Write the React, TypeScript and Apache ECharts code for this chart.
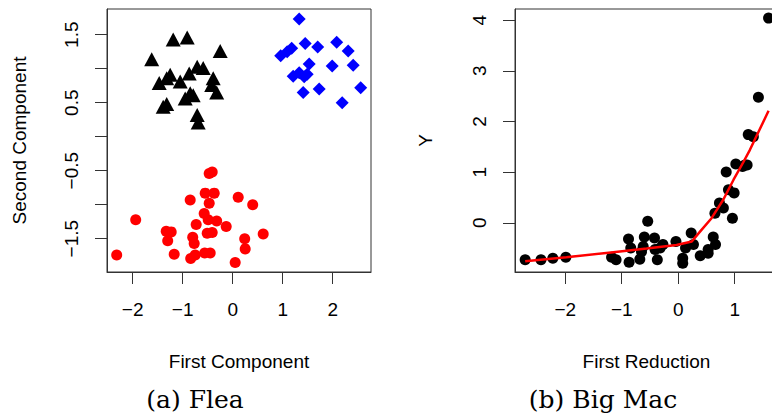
import React, { useEffect, useRef } from "react";
import * as echarts from "echarts";

// ---- Panel (a) Flea ----
const fleaTriangles: [number, number][] = [
  [-1.19, 1.43], [-0.91, 1.46], [-1.62, 1.14], [-0.25, 1.26], [-1.25, 0.91],
  [-1.47, 0.79], [-1.05, 0.81], [-0.87, 0.93], [-0.71, 1.03], [-0.59, 1.01],
  [-0.39, 0.86], [-0.42, 0.76], [-0.32, 0.65], [-0.85, 0.64], [-0.95, 0.56],
  [-1.32, 0.48], [-1.39, 0.44], [-0.71, 0.32], [-0.69, 0.21], [-1.32, 0.86],
  [-0.79, 0.61],
];
const fleaDiamonds: [number, number][] = [
  [1.33, 1.73], [1.18, 1.30], [1.09, 1.25], [0.96, 1.19], [1.45, 1.37],
  [1.70, 1.32], [2.08, 1.39], [2.31, 1.26], [1.53, 1.07], [1.99, 1.04],
  [2.41, 1.05], [1.21, 0.89], [1.33, 0.94], [1.43, 0.88], [1.49, 0.92],
  [1.41, 0.65], [1.73, 0.70], [2.56, 0.72], [2.19, 0.50],
];
const fleaCircles: [number, number][] = [
  [-2.32, -1.74], [-1.94, -1.22], [-1.33, -1.39], [-1.23, -1.40], [-1.30, -1.53],
  [-1.17, -1.73], [-0.85, -0.93], [-0.80, -1.48], [-0.77, -1.57], [-0.73, -1.29],
  [-0.84, -1.79], [-0.75, -1.74], [-0.57, -1.13], [-0.55, -0.83], [-0.47, -0.54],
  [-0.41, -0.52], [-0.37, -0.83], [-0.47, -0.98], [-0.49, -1.22], [-0.32, -1.24],
  [-0.51, -1.42], [-0.41, -1.41], [-0.56, -1.71], [-0.45, -1.71], [-0.13, -1.32],
  [0.11, -0.89], [0.40, -1.00], [0.61, -1.43], [0.24, -1.50], [0.25, -1.65],
  [0.05, -1.85],
];
const fleaXTicks = [-2, -1, 0, 1, 2];
const fleaYTicks = [-1.5, -1, -0.5, 0, 0.5, 1, 1.5];
const fleaYLabels = [-1.5, -0.5, 0.5, 1.5];

// ---- Panel (b) Big Mac ----
const bigMacPoints: [number, number][] = [
  [-2.71, -0.73], [-2.43, -0.73], [-2.22, -0.70], [-1.99, -0.68], [-1.18, -0.68],
  [-1.10, -0.73], [-0.88, -0.32], [-0.84, -0.50], [-0.87, -0.78], [-0.68, -0.72],
  [-0.65, -0.57], [-0.60, -0.28], [-0.62, -0.47], [-0.54, 0.03], [-0.42, -0.30],
  [-0.41, -0.53], [-0.37, -0.73], [-0.27, -0.43], [-0.32, -0.50], [-0.04, -0.37],
  [0.08, -0.70], [0.08, -0.80], [0.13, -0.50], [0.23, -0.20], [0.27, -0.43],
  [0.39, -0.65], [0.53, -0.53], [0.62, -0.28], [0.66, -0.43], [0.65, 0.19],
  [0.73, 0.39], [0.80, 0.29], [0.96, 0.09], [0.89, 0.65], [0.99, 0.59],
  [0.85, 1.00], [1.02, 1.16], [1.18, 1.14], [1.14, 1.11], [1.22, 1.14],
  [1.24, 1.74], [1.33, 1.70], [1.42, 2.48], [1.60, 4.04], [0.53, -0.60],
];
const bigMacFit: [number, number][] = [
  [-2.71, -0.76], [-1.98, -0.68], [-1.15, -0.58], [-0.56, -0.51], [-0.03, -0.44],
  [0.24, -0.37], [0.39, -0.17], [0.59, 0.09], [0.80, 0.46], [0.98, 0.85],
  [1.15, 1.19], [1.27, 1.44], [1.60, 2.21],
];
const bigMacXTicks = [-2, -1, 0, 1];
const bigMacYTicks = [0, 1, 2, 3, 4];

const fmt = (v: number) => (v < 0 ? "\u2212" + String(-v) : String(v));

const SANS = "Liberation Sans";
const FS = 19;

function makeAxis(
  gridIndex: number,
  min: number,
  max: number,
  ticks: number[],
  labels: number[],
  name: string,
  nameGap: number,
  isY: boolean
) {
  return {
    type: "value",
    gridIndex,
    min,
    max,
    name,
    nameLocation: "middle",
    nameGap,
    nameTextStyle: { fontFamily: SANS, fontSize: FS, color: "#000" },
    axisLine: { show: true, onZero: false, lineStyle: { color: "#333", width: 1 } },
    axisTick: {
      show: true,
      length: 12,
      inside: false,
      customValues: ticks,
      lineStyle: { color: "#333", width: 1 },
    },
    axisLabel: {
      show: true,
      customValues: labels,
      formatter: (v: number) => fmt(v),
      fontFamily: SANS,
      fontSize: FS,
      color: "#000",
      margin: isY ? 26 : 28,
      rotate: isY ? 90 : 0,
      showMinLabel: true,
      showMaxLabel: true,
    },
    splitLine: { show: false },
  };
}

export default function App() {
  const ref = useRef<HTMLDivElement>(null);
  useEffect(() => {
    if (!ref.current) return;
    const chart = echarts.init(ref.current, null, { renderer: "svg" });
    chart.setOption({
      animation: false,
      backgroundColor: "#fff",
      grid: [
        { left: 107, top: 9, width: 264, height: 263, show: true, borderColor: "#333", borderWidth: 1, backgroundColor: "transparent" },
        { left: 515, top: 9, width: 263, height: 263, show: true, borderColor: "#333", borderWidth: 1, backgroundColor: "transparent" },
      ],
      xAxis: [
        makeAxis(0, -2.514, 2.766, fleaXTicks, fleaXTicks, "First Component", 80, false),
        makeAxis(1, -2.89, 1.767, bigMacXTicks, bigMacXTicks, "First Reduction", 80, false),
      ],
      yAxis: [
        makeAxis(0, -1.99, 1.878, fleaYTicks, fleaYLabels, "Second Component", 78, true),
        makeAxis(1, -0.972, 4.22, bigMacYTicks, bigMacYTicks, "Y", 80, true),
      ],
      series: [
        {
          type: "scatter", xAxisIndex: 0, yAxisIndex: 0, data: fleaTriangles,
          symbol: "triangle", symbolSize: [15, 14], itemStyle: { color: "#000", opacity: 1 },
        },
        {
          type: "scatter", xAxisIndex: 0, yAxisIndex: 0, data: fleaDiamonds,
          symbol: "diamond", symbolSize: [13, 13], itemStyle: { color: "#0000ff", opacity: 1 },
        },
        {
          type: "scatter", xAxisIndex: 0, yAxisIndex: 0, data: fleaCircles,
          symbol: "circle", symbolSize: 11, itemStyle: { color: "#ff0000", opacity: 1 },
        },
        {
          type: "scatter", xAxisIndex: 1, yAxisIndex: 1, data: bigMacPoints,
          symbol: "circle", symbolSize: 11, itemStyle: { color: "#000", opacity: 1 },
        },
        {
          type: "line", xAxisIndex: 1, yAxisIndex: 1, data: bigMacFit,
          showSymbol: false, smooth: false,
          lineStyle: { color: "#ff0000", width: 2.5 },
          z: 5,
        },
      ],
      graphic: [
        {
          type: "text", x: 195, y: 399,
          style: { text: "(a) Flea", fontFamily: "DejaVu Serif", fontSize: 25, fill: "#000", align: "center", verticalAlign: "middle" },
        },
        {
          type: "text", x: 603, y: 399,
          style: { text: "(b) Big Mac", fontFamily: "DejaVu Serif", fontSize: 25, fill: "#000", align: "center", verticalAlign: "middle" },
        },
      ],
    });
    return () => chart.dispose();
  }, []);
  return (
    <div style={{ position: "fixed", left: 0, top: 0, width: 772, height: 414, overflow: "hidden", background: "#fff" }}>
      <div ref={ref} style={{ width: 800, height: 414 }} />
    </div>
  );
}
